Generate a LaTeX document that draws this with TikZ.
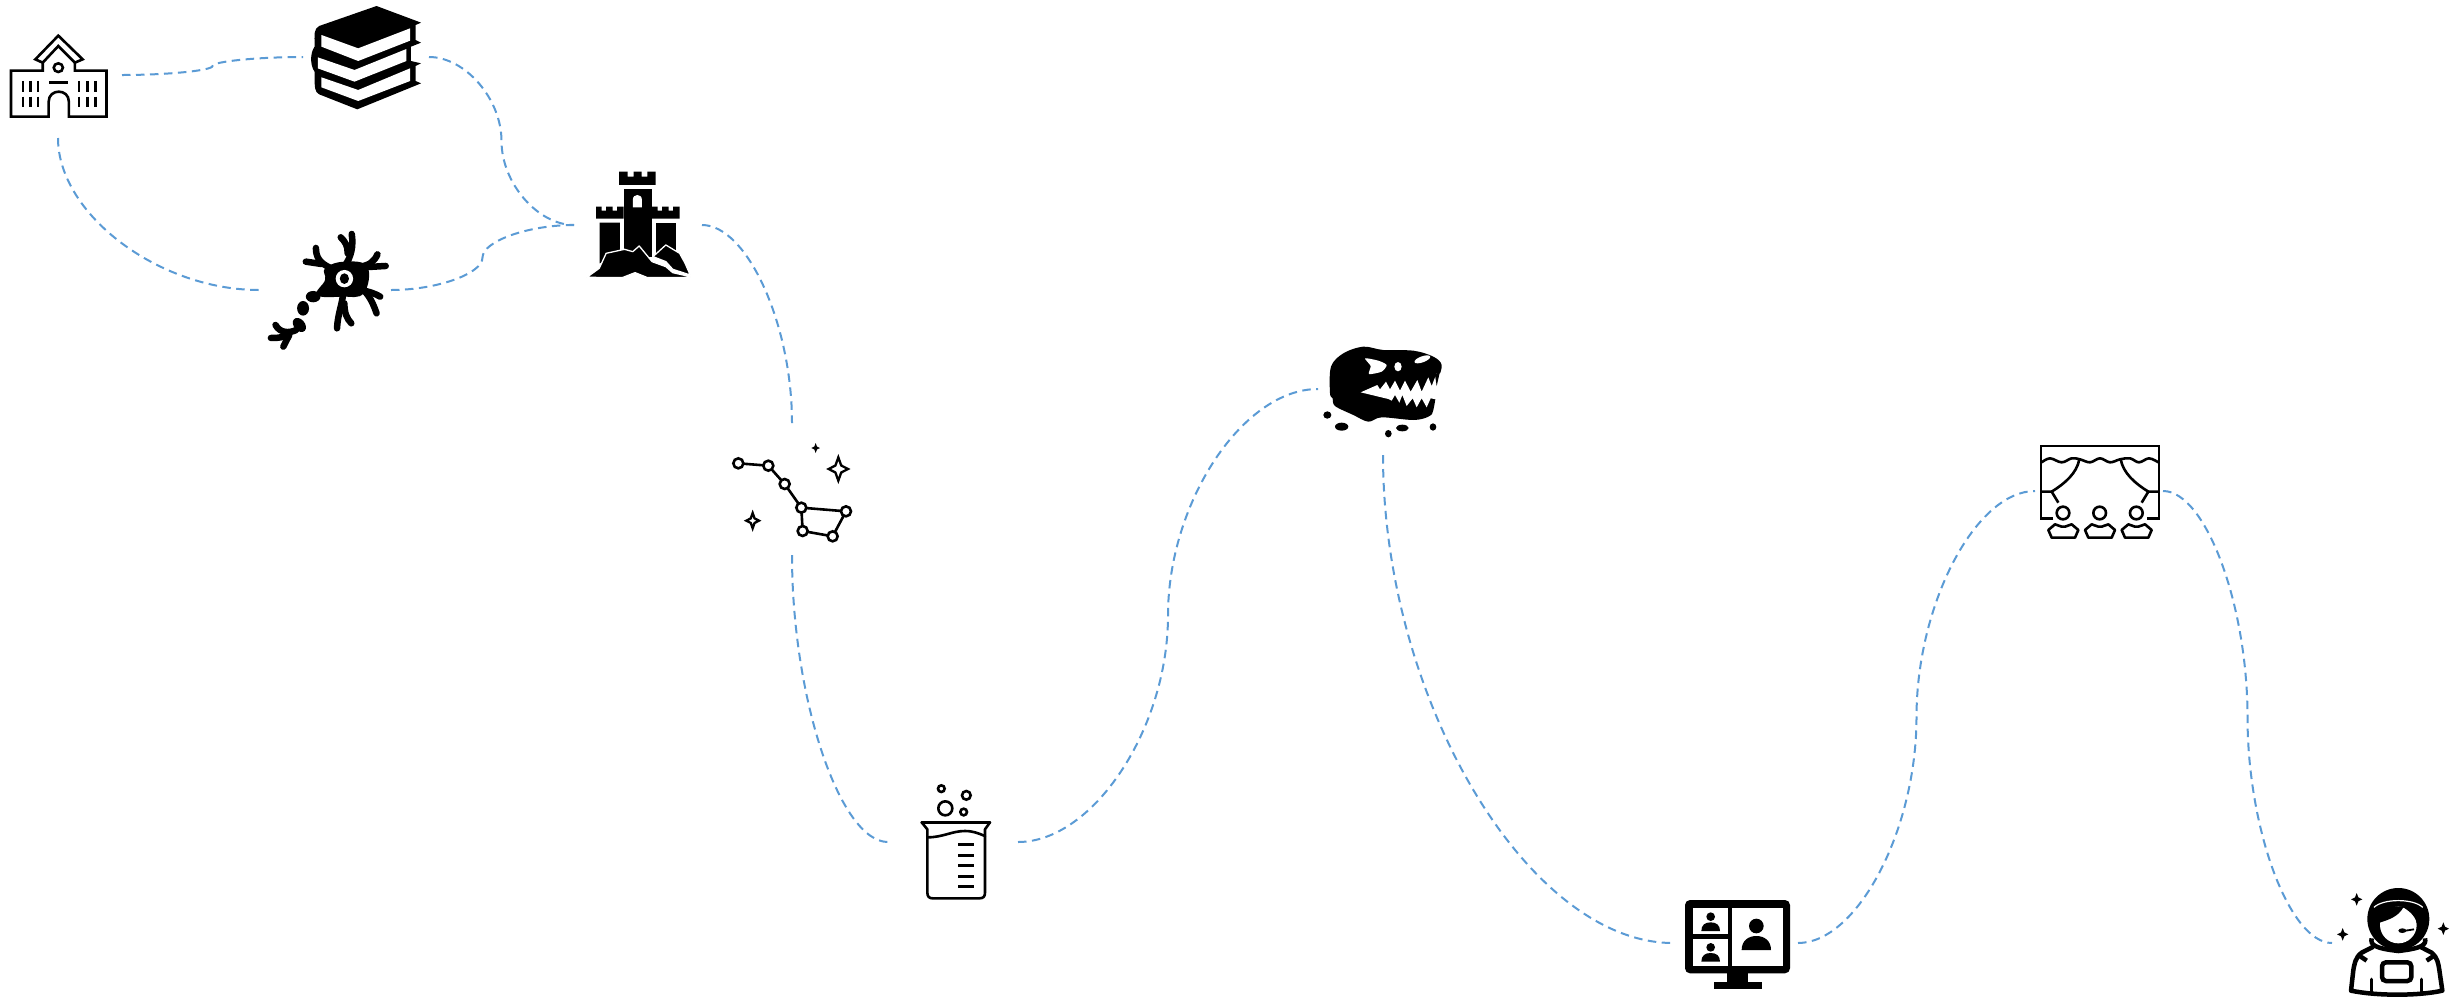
\documentclass[tikz,border=0pt]{standalone}
\usetikzlibrary{calc}
\definecolor{linkblue}{HTML}{5B9BD5}
\tikzset{
  link/.style={draw=linkblue,line width=2pt,dash pattern=on 8.5pt off 5.5pt},
  anchorbox/.style={inner sep=0pt,outer sep=0pt,minimum width=#1,minimum height=130pt},
  ink/.style={draw=black,line width=2.6pt,line join=miter},
  inkround/.style={draw=black,line width=2.6pt,line cap=round,line join=round},
  dendrite/.style={draw=black,line width=6.5pt,line cap=round,line join=round},
}
\newcommand{\sconn}[2]{\draw[link] let \p1=(#1),\p2=(#2) in (\p1)
  .. controls ({.75*\x1+.25*\x2},\y1) and ({.5*\x1+.5*\x2},{.75*\y1+.25*\y2}) .. ({.5*\x1+.5*\x2},{.5*\y1+.5*\y2})
  .. controls ({.5*\x1+.5*\x2},{.25*\y1+.75*\y2}) and ({.25*\x1+.75*\x2},\y2) .. (\p2);}
\newcommand{\hvconn}[2]{\draw[link] let \p1=(#1),\p2=(#2) in (\p1)
  .. controls ({.5*\x1+.5*\x2},\y1) and (\x2,{.5*\y1+.5*\y2}) .. (\p2);}
\newcommand{\vhconn}[2]{\draw[link] let \p1=(#1),\p2=(#2) in (\p1)
  .. controls (\x1,{.5*\y1+.5*\y2}) and ({.5*\x1+.5*\x2},\y2) .. (\p2);}
\newcommand{\sparkpath}[4]{({#1},{#2-#4}) -- ({#1+.3*#3},{#2-.3*#4}) -- ({#1+#3},{#2}) -- ({#1+.3*#3},{#2+.3*#4}) -- ({#1},{#2+#4}) -- ({#1-.3*#3},{#2+.3*#4}) -- ({#1-#3},{#2}) -- ({#1-.3*#3},{#2-.3*#4}) -- cycle}
\begin{document}
\begin{tikzpicture}[x=1pt,y=-1pt]
\useasboundingbox[fill=white] (0,0) rectangle (2458,997);
% anchor boxes for the icons
\node[anchorbox=128pt,minimum height=126pt] (school) at (58,75) {};
\node[anchorbox=126pt] (books) at (366,57) {};
\node[anchorbox=132pt] (neuron) at (325,290) {};
\node[anchorbox=128pt] (castle) at (638,225) {};
\node[anchorbox=130pt,minimum height=132pt] (stars) at (792,489) {};
\node[anchorbox=130pt] (beaker) at (953,842) {};
\node[anchorbox=130pt,minimum height=132pt] (dino) at (1383,389) {};
\node[anchorbox=125pt] (screen) at (1735.5,943) {};
\node[anchorbox=128pt] (theatre) at (2099,491) {};
\node[anchorbox=126pt] (astronaut) at (2395,943) {};
% connectors
\sconn{school.east}{books.west}
\vhconn{school.south}{neuron.west}
\sconn{books.east}{castle.west}
\sconn{neuron.east}{castle.west}
\hvconn{castle.east}{stars.north}
\vhconn{stars.south}{beaker.west}
\sconn{beaker.east}{dino.west}
\vhconn{dino.south}{screen.west}
\sconn{screen.east}{theatre.west}
\sconn{theatre.east}{astronaut.west}
% school
\begin{scope}[shift={(0,0)},xscale=0.4592,yscale=0.3333]
  \draw[ink] (24,350) -- (24,212) -- (93,212) -- (93,188) -- (77,178) -- (127,107) -- (180,178) -- (163,188) -- (163,212) -- (232,212) -- (232,350) -- (150,350) -- (150,305) .. controls (150,265) and (106,265) .. (106,305) -- (106,350) -- cycle;
  \draw[ink] (93,188) -- (127,138) -- (163,188);
  \draw[ink] (127,203) ellipse (10 and 13);
  \draw[ink,line width=3pt] (107,247) -- (148,247);
  \foreach \wx in {50,66,83,172,190,208} {
    \draw[ink] (\wx,243) -- (\wx,275);
    \draw[ink] (\wx,290) -- (\wx,320);
  }
\end{scope}
% books
\begin{scope}[shift={(0,0)},xscale=0.4592,yscale=0.3333]
  \fill[black,line join=round] (695,78) -- (820,18) -- (917,68) -- (905,75) -- (905,120) -- (917,128) -- (895,140) -- (895,183) -- (917,190) -- (905,198) -- (905,243) -- (917,250) -- (778,328) -- (695,283) .. controls (685,275) and (685,265) .. (685,215) .. controls (675,195) and (675,160) .. (685,140) .. controls (685,100) and (683,88) .. (695,78) -- cycle;
  \fill[white] (700,105) -- (780,145) -- (893,85) -- (893,122) -- (780,183) -- (700,140) -- cycle;
  \fill[white] (692,172) -- (772,210) -- (885,147) -- (885,183) -- (772,245) -- (692,205) -- cycle;
  \fill[white] (700,232) -- (780,270) -- (893,205) -- (893,243) -- (780,303) -- (700,262) -- cycle;
\end{scope}
% neuron
\begin{scope}[shift={(0,0)},xscale=0.4592,yscale=0.3333]
  \fill[black] plot[smooth cycle,tension=.7] coordinates {(708,805) (750,785) (800,800) (792,880) (745,890) (690,885) (708,840)};
  \draw[dendrite] (750,800) .. controls (765,770) and (770,740) .. (766,702);
  \draw[dendrite] (757,760) .. controls (758,740) and (752,725) .. (742,712);
  \draw[dendrite] (722,805) .. controls (695,790) and (688,770) .. (688,744);
  \draw[dendrite] (700,792) -- (666,785);
  \draw[dendrite] (785,800) .. controls (805,795) and (815,785) .. (822,763);
  \draw[dendrite] (790,802) -- (840,798);
  \draw[dendrite] (785,870) .. controls (805,875) and (815,880) .. (828,890);
  \draw[dendrite] (795,875) .. controls (808,895) and (815,920) .. (820,940);
  \draw[dendrite] (748,875) .. controls (745,915) and (735,945) .. (734,985);
  \draw[dendrite] (750,910) .. controls (750,940) and (755,955) .. (765,970);
  \fill[black] (682,890) ellipse (16 and 17);
  \fill[black] (660,925) ellipse (13 and 22);
  \fill[black,rotate around={20:(652,975)}] (652,975) ellipse (13 and 22);
  \draw[dendrite] (645,990) .. controls (630,1000) and (610,1000) .. (600,975);
  \draw[dendrite] (630,1000) .. controls (620,1012) and (605,1015) .. (590,1014);
  \draw[dendrite] (630,1005) -- (617,1040);
  \fill[white] (750,836) ellipse (19 and 26);
  \fill[black] (750,836) ellipse (10 and 16);
\end{scope}
% castle
\begin{scope}[shift={(0,0)},xscale=0.4592,yscale=0.3333]
  \fill[black] (1348,515) -- (1367,515) -- (1367,530) -- (1380,530) -- (1380,515) -- (1397,515) -- (1397,530) -- (1410,530) -- (1410,515) -- (1428,515) -- (1428,555) -- (1348,555) -- cycle;
  \fill[black] (1358,567) -- (1420,567) -- (1420,770) -- (1358,770) -- cycle;
  \fill[white] (1378,622) -- (1378,600) .. controls (1378,580) and (1398,580) .. (1398,600) -- (1398,622) -- cycle;
  \foreach \cx in {1298,1420} {
    \fill[black] (\cx,620) -- ({\cx+12},620) -- ({\cx+12},632) -- ({\cx+22},632) -- ({\cx+22},620) -- ({\cx+36},620) -- ({\cx+36},632) -- ({\cx+46},632) -- ({\cx+46},620) -- ({\cx+60},620) -- ({\cx+60},656) -- (\cx,656) -- cycle;
  }
  \fill[black] (1306,668) -- (1350,668) -- (1350,770) -- (1306,790) -- cycle;
  \fill[black] (1428,668) -- (1472,668) -- (1472,770) -- (1428,770) -- cycle;
  \filldraw[fill=black,draw=white,line width=1.3pt,line join=round] (1450,735) -- (1480,760) -- (1492,790) -- (1503,825) -- (1465,808) -- (1450,785) -- (1422,770) -- cycle;
  \filldraw[fill=black,draw=white,line width=1.3pt,line join=round] (1278,832) -- (1305,805) -- (1320,760) -- (1360,748) -- (1378,755) -- (1392,738) -- (1420,785) -- (1450,800) -- (1465,818) -- (1503,830) -- (1503,833) -- (1410,833) -- (1383,818) -- (1355,833) -- cycle;
\end{scope}
% constellation
\begin{scope}[shift={(700,420)},xscale=0.3333,yscale=0.3333]
  \draw[ink] (115,130) -- (205,137) -- (254,192) -- (304,263) -- (438,274) -- (398,349) -- (308,333) -- (304,263);
  \foreach \sx/\sy in {115/130,205/137,254/192,304/263,438/274,398/349,308/333}
    \filldraw[ink,fill=white] (\sx,\sy) circle (15);
  \draw[ink,line width=2.3pt] \sparkpath{415}{147}{29}{35};
  \draw[ink,line width=2.3pt] \sparkpath{158}{302}{19}{23};
  \fill[black] \sparkpath{347}{84}{13}{15};
\end{scope}
% beaker
\begin{scope}[shift={(880,770)},xscale=0.3333,yscale=0.3333]
  \draw[inkround] (125,157) -- (330,157);
  \draw[inkround] (125,157) -- (142,178) -- (142,368) .. controls (142,380) and (148,385) .. (158,385) -- (298,385) .. controls (310,385) and (315,380) .. (315,368) -- (315,178) -- (330,157);
  \draw[inkround] (142,202) .. controls (190,202) and (215,183) .. (255,183) .. controls (280,183) and (295,190) .. (315,198);
  \foreach \ty in {223,256,287,319,349}
    \draw[ink,line width=3pt] (235,\ty) -- (282,\ty);
  \draw[ink] (184,56) circle (10);
  \draw[ink] (259,76) circle (13);
  \draw[ink] (196,115) circle (21);
  \draw[ink] (251,126) circle (10);
\end{scope}
% dinosaur
\begin{scope}[shift={(1300,330)},xscale=0.3333,yscale=0.3333]
  \fill[black] plot[smooth cycle,tension=.55] coordinates {(90,190) (93,110) (130,70) (190,50) (250,60) (340,62) (400,80) (425,105) (415,150) (400,240) (385,260) (340,270) (245,262) (205,275) (160,255) (105,228) (98,205)};
  \fill[white] (182,187) -- (232,165) -- (240,178) -- (258,155) -- (270,178) -- (285,152) -- (300,182) -- (315,152) -- (332,185) -- (352,150) -- (365,185) -- (385,142) -- (395,168) -- (410,130) -- (414,130) -- (440,130) -- (445,215) -- (392,205) -- (380,232) -- (365,205) -- (350,232) -- (338,205) -- (320,228) -- (307,195) -- (298,218) -- (285,195) -- (275,212) -- (265,207) -- cycle;
  \fill[black] (420,120) -- (410,130) -- (405,135) -- (410,168) -- (420,125) -- cycle;
  \fill[white] plot[smooth cycle,tension=.4] coordinates {(195,85) (235,92) (260,105) (245,125) (207,132) (212,108)};
  \fill[white] (294,110) ellipse (11 and 14);
  \fill[white,rotate around={20:(367,88)}] (367,88) ellipse (25 and 9);
  \fill[black] (82,255) ellipse (12 and 11);
  \fill[black] (125,290) ellipse (20 and 12);
  \fill[black] (265,311) ellipse (10 and 11);
  \fill[black] (307,294) ellipse (19 and 10);
  \fill[black] (399,291) ellipse (10 and 11);
\end{scope}
% video call screen
\begin{scope}[shift={(1670,890)},xscale=0.3333,yscale=0.3333]
  \fill[black,rounded corners=5pt] (45,30) rectangle (360,250);
  \fill[white] (68,53) rectangle (175,133);
  \fill[white] (68,147) rectangle (175,228);
  \fill[white] (186,53) rectangle (338,228);
  \fill[black] (172,250) rectangle (235,275);
  \fill[black] (133,275) rectangle (275,298);
  \fill[black] (122,80) circle (13);
  \fill[black] (94,123) .. controls (94,105) and (105,97) .. (122,97) .. controls (139,97) and (150,105) .. (150,123) -- cycle;
  \fill[black] (122,172) circle (13);
  \fill[black] (94,215) .. controls (94,197) and (105,189) .. (122,189) .. controls (139,189) and (150,197) .. (150,215) -- cycle;
  \fill[black] (259,108) circle (22);
  \fill[black] (215,180) .. controls (215,152) and (235,138) .. (259,138) .. controls (283,138) and (303,152) .. (303,180) -- cycle;
\end{scope}
% theatre
\begin{scope}[shift={(2020,430)},xscale=0.3333,yscale=0.3333]
  \draw[ink] (100,265) -- (63,265) -- (63,48) -- (417,48) -- (417,265) -- (380,265);
  \draw[ink] plot[smooth,tension=.6] coordinates {(65,97) (90,85) (125,97) (155,85) (180,88) (210,97) (240,85) (270,97) (300,88) (330,85) (357,97) (387,85) (415,97)};
  \draw[ink] (178,88) .. controls (170,130) and (135,160) .. (95,185);
  \draw[ink] (302,88) .. controls (310,130) and (345,160) .. (385,185);
  \draw[ink] (65,185) -- (95,185) -- (115,218);
  \draw[ink] (415,185) -- (385,185) -- (365,218);
  \foreach \ax in {0,110,220} {
    \draw[ink] ({129+\ax},249) circle (19);
    \draw[ink,line join=round] ({105+\ax},283) -- ({125+\ax},290) -- ({135+\ax},290) -- ({155+\ax},283) -- ({175+\ax},300) -- ({165+\ax},323) -- ({95+\ax},323) -- ({85+\ax},300) -- cycle;
  }
\end{scope}
% astronaut
\begin{scope}[shift={(2320,870)},xscale=0.3333,yscale=0.3333]
  \fill[black] \sparkpath{110}{88}{17}{19};
  \fill[black] \sparkpath{68}{193}{17}{19};
  \fill[black] \sparkpath{370}{176}{17}{19};
  \fill[black] (235,147) circle (93);
  \draw[white,line width=1.2pt] (162,112) .. controls (190,85) and (280,85) .. (308,112);
  \fill[white] (235,165) circle (55);
  \fill[black] (178,158) .. controls (205,150) and (235,140) .. (250,112) .. controls (270,125) and (290,140) .. (292,170) -- (300,110) -- (170,110) -- cycle;
  \fill[black] (247,182) ellipse (12 and 7);
  \draw[ink,line width=1.8pt] (250,183) -- (282,178);
  \draw[ink,line width=4.5pt] (155,205) .. controls (150,225) and (165,235) .. (235,243) .. controls (305,235) and (320,225) .. (315,205);
  \draw[ink,line width=4.5pt,line join=round] (160,230) -- (125,248) .. controls (105,262) and (103,285) .. (100,300) -- (93,362) .. controls (170,378) and (295,378) .. (367,362) -- (358,300) .. controls (355,280) and (352,262) .. (335,248) -- (300,230);
  \draw[ink,line width=4.5pt] (115,255) -- (140,272);
  \draw[ink,line width=4.5pt] (345,255) -- (320,272);
  \draw[ink,line width=4.5pt,rounded corners=4pt] (186,277) rectangle (274,333);
  \draw[ink,line width=3.5pt,line cap=round] (155,328) -- (155,365);
  \draw[ink,line width=3.5pt,line cap=round] (305,328) -- (305,365);
\end{scope}
\end{tikzpicture}
\end{document}
